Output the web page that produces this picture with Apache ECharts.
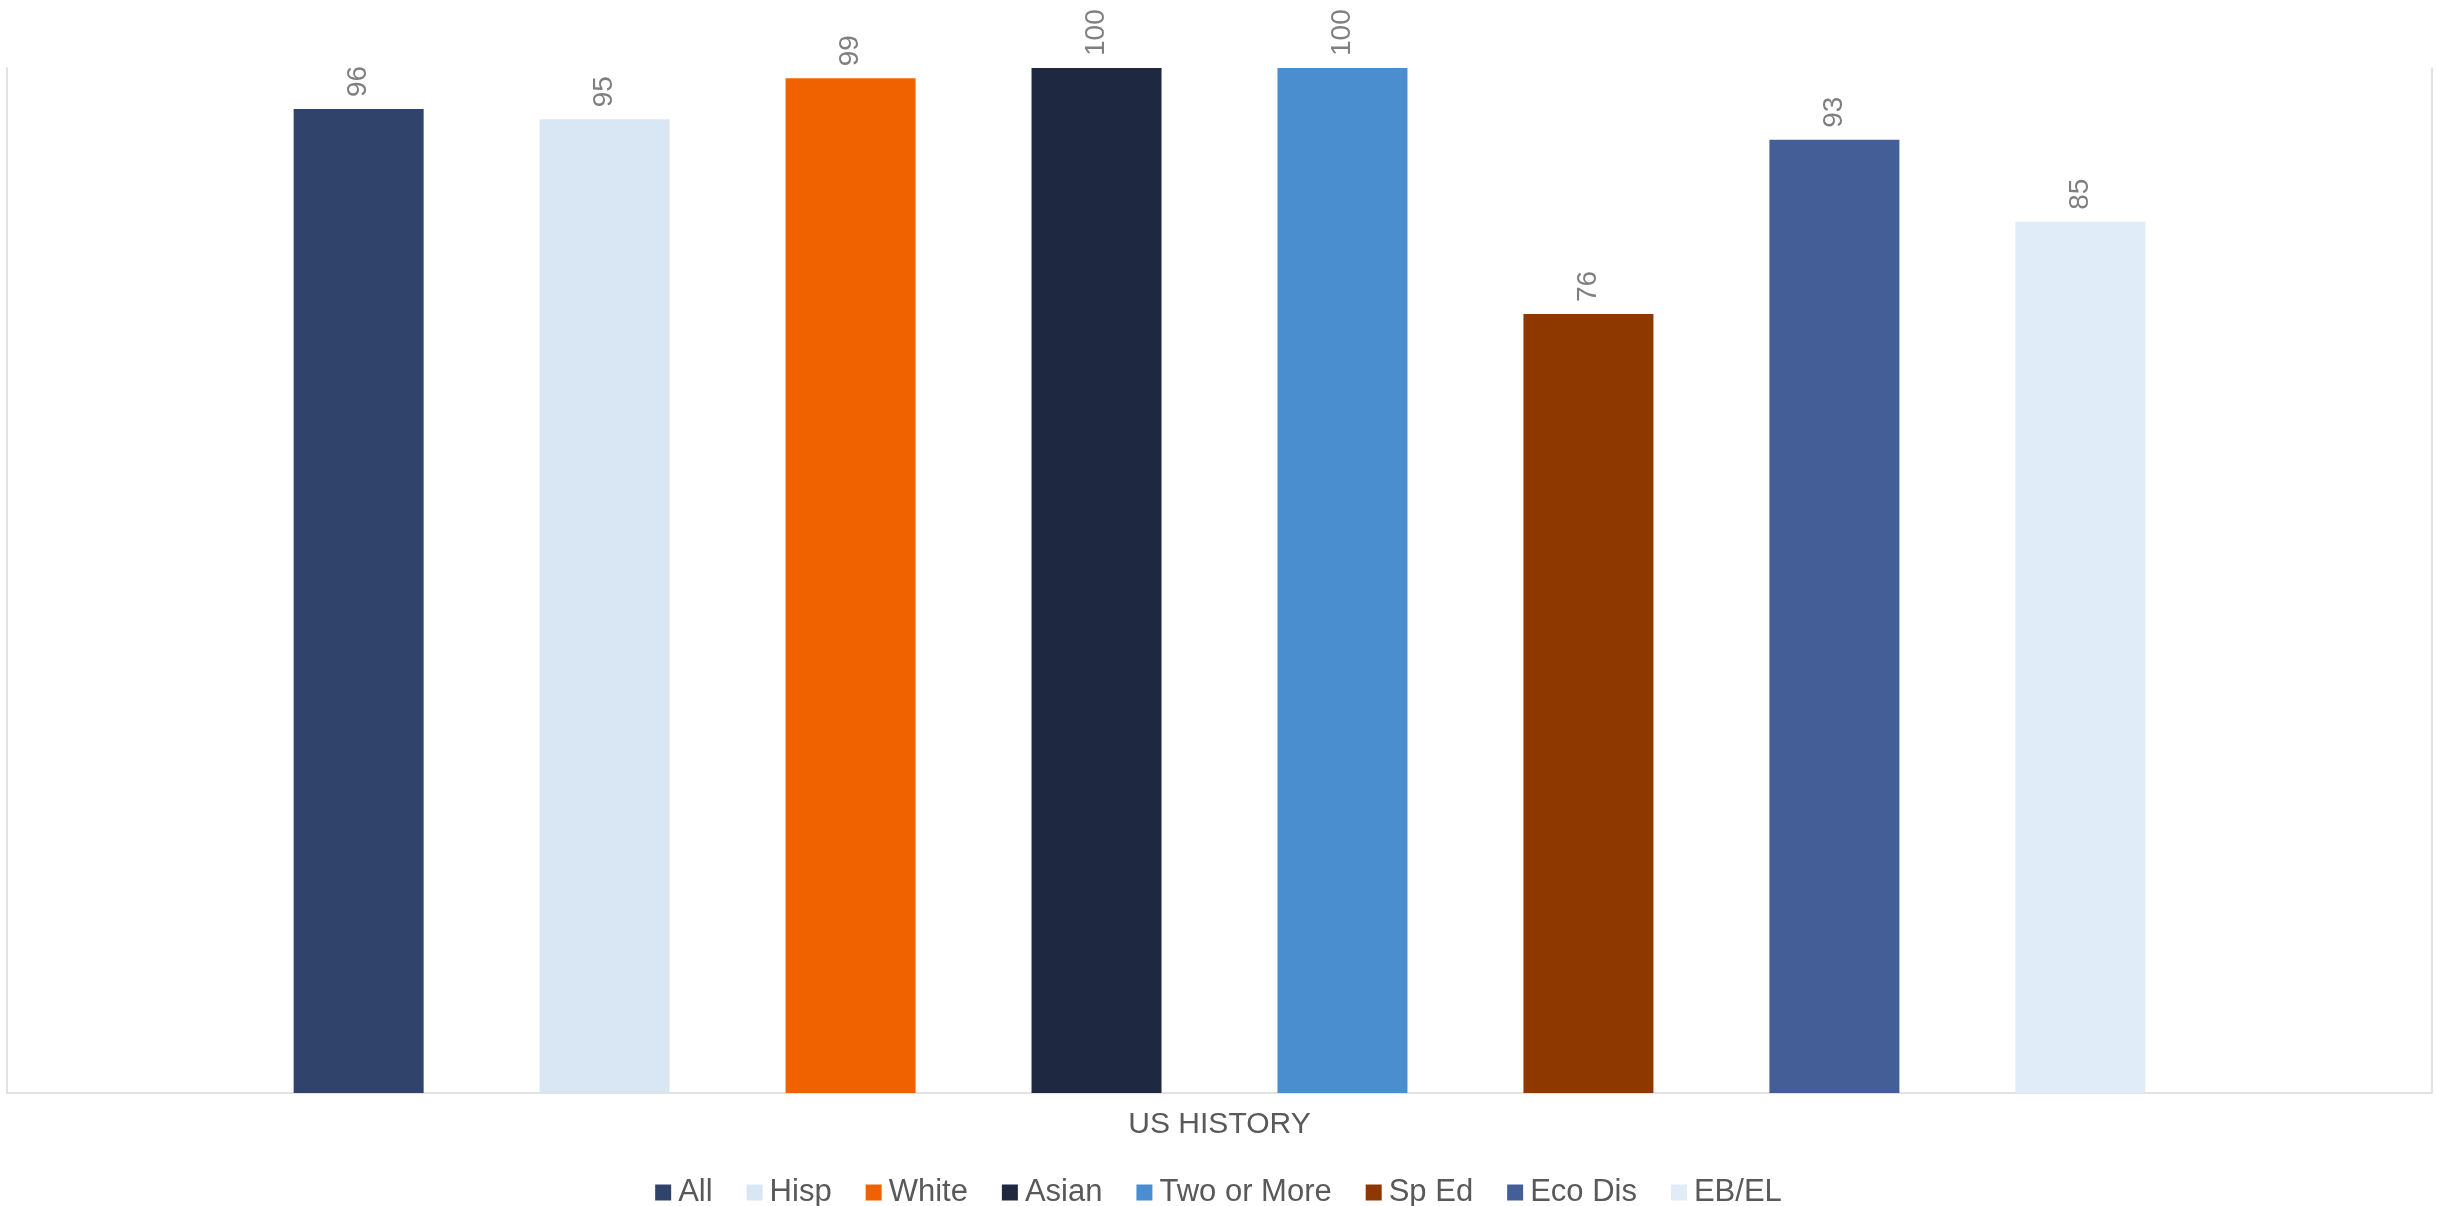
<!DOCTYPE html>
<html>
<head>
<meta charset="utf-8">
<script src="https://cdn.jsdelivr.net/npm/echarts@6/dist/echarts.min.js"></script>
<style>
html,body{margin:0;padding:0;background:#fff;}
#chart{width:2437px;height:1206px;}
</style>
</head>
<body>
<div id="chart"></div>
<script>
const categories = ['US HISTORY'];
const seriesNames = ['All', 'Hisp', 'White', 'Asian', 'Two or More', 'Sp Ed', 'Eco Dis', 'EB/EL'];
const seriesValues = [96, 95, 99, 100, 100, 76, 93, 85];
const seriesColors = ['#30436A', '#D9E7F4', '#F06200', '#1E2941', '#4A8ECF', '#8E3800', '#445F98', '#E0ECF7'];

const chart = echarts.init(document.getElementById('chart'));
const series = seriesNames.map((name, i) => ({
  name: name,
  type: 'bar',
  data: [seriesValues[i]],
  barWidth: 130,
  barGap: '89.2%',
  itemStyle: { color: seriesColors[i] },
  label: {
    show: true,
    position: 'top',
    rotate: 90,
    align: 'left',
    verticalAlign: 'middle',
    distance: 12,
    color: '#7F7F7F',
    fontSize: 28,
    fontFamily: 'Liberation Sans, Arial, sans-serif'
  }
}));

chart.setOption({
  animation: false,
  backgroundColor: '#ffffff',
  grid: { left: 7, right: 5, top: 68, bottom: 113, containLabel: false },
  legend: {
    data: seriesNames,
    left: 'center',
    top: 1172,
    icon: 'rect',
    itemWidth: 16,
    itemHeight: 16,
    itemGap: 34,
    textStyle: {
      color: '#595959',
      fontSize: 31,
      fontFamily: 'Liberation Sans, Arial, sans-serif',
      padding: [0, 0, 0, 2]
    }
  },
  xAxis: {
    type: 'category',
    data: categories,
    axisLine: { show: true, lineStyle: { color: '#D9D9D9', width: 1.5 } },
    axisTick: { show: false },
    axisLabel: {
      show: true,
      margin: 17,
      color: '#595959',
      fontSize: 30,
      fontFamily: 'Liberation Sans, Arial, sans-serif'
    }
  },
  yAxis: [
    {
      type: 'value', min: 0, max: 100, position: 'left',
      axisLine: { show: true, lineStyle: { color: '#D9D9D9', width: 1.5 } },
      axisTick: { show: false }, axisLabel: { show: false }, splitLine: { show: false }
    },
    {
      type: 'value', min: 0, max: 100, position: 'right',
      axisLine: { show: true, lineStyle: { color: '#D9D9D9', width: 1.5 } },
      axisTick: { show: false }, axisLabel: { show: false }, splitLine: { show: false }
    }
  ],
  series: series
});
</script>
</body>
</html>
